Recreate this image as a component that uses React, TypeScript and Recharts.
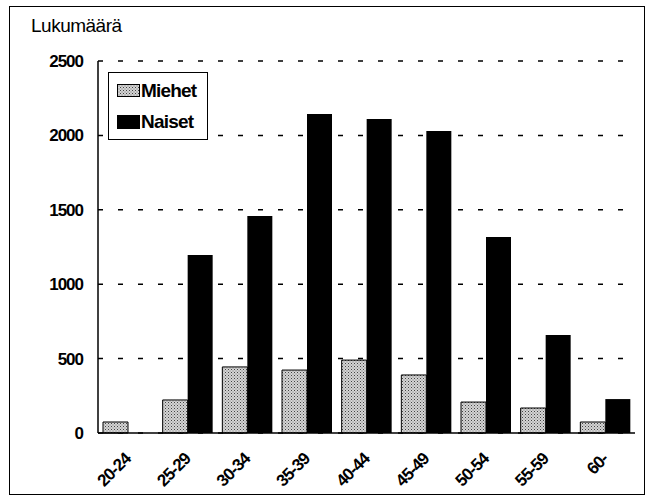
import { BarChart, Bar, XAxis, YAxis, CartesianGrid } from 'recharts';

const ageGroups = ['20-24', '25-29', '30-34', '35-39', '40-44', '45-49', '50-54', '55-59', '60-'];
const miehet = [74, 222, 444, 423, 490, 390, 208, 168, 74];
const naiset = [0, 1196, 1458, 2144, 2110, 2030, 1317, 659, 228];
const yTicks = [0, 500, 1000, 1500, 2000, 2500];

const FONT = '"Liberation Sans Narrow", "Liberation Sans", Arial, sans-serif';

const data = ageGroups.map((g, i) => ({ group: g, miehet: miehet[i], naiset: naiset[i] }));

function AgeTick(props: any) {
  const { x, y, payload } = props;
  const ax = x + 4;
  const ay = y + 19;
  return (
    <text
      x={ax}
      y={ay}
      transform={`rotate(-45, ${ax}, ${ay})`}
      textAnchor="end"
      fontFamily={FONT}
      fontWeight="bold"
      fontSize={17}
      letterSpacing={-0.9}
      fill="#000"
    >
      {payload.value}
    </text>
  );
}

function LegendBox() {
  const row = { display: 'flex', alignItems: 'center', height: 31 } as const;
  return (
    <div
      style={{
        position: 'absolute',
        left: 108,
        top: 72,
        width: 100,
        height: 68,
        boxSizing: 'border-box',
        border: '1px solid #000',
        background: '#fff',
        padding: '2px 4px 2px 8px',
        fontFamily: FONT,
        fontWeight: 'bold',
        fontSize: 19,
        letterSpacing: -0.8,
      }}
    >
      <div style={row}>
        <svg width={23} height={13} style={{ marginRight: 1 }}>
          <rect x={0.5} y={0.5} width={22} height={12} fill="url(#dots)" stroke="#000" />
        </svg>
        Miehet
      </div>
      <div style={row}>
        <svg width={23} height={14} style={{ marginRight: 1 }}>
          <rect x={0} y={0} width={23} height={14} fill="#000" />
        </svg>
        Naiset
      </div>
    </div>
  );
}

export default function App() {
  return (
    <div style={{ position: 'absolute', left: 0, top: 0, width: 652, height: 504, background: '#fff' }}>
      <div
        style={{
          position: 'absolute',
          left: 9,
          top: 6,
          width: 636,
          height: 489,
          border: '1.5px solid #000',
          boxSizing: 'border-box',
        }}
      />
      <div
        style={{
          position: 'absolute',
          left: 31,
          top: 15,
          fontFamily: FONT,
          fontSize: 19,
          letterSpacing: -0.5,
          color: '#000',
        }}
      >
        Lukumäärä
      </div>
      <BarChart
        width={652}
        height={504}
        data={data}
        margin={{ top: 61, right: 17, left: 0, bottom: 0 }}
        barCategoryGap={5}
        barGap={0}
        style={{ position: 'absolute', left: 0, top: 0 }}
      >
        <defs>
          <pattern id="dots" width={3} height={3} patternUnits="userSpaceOnUse">
            <rect width={3} height={3} fill="#d4d4d4" />
            <rect width={1} height={1} fill="#444" />
            <rect x={1.5} y={1.5} width={1} height={1} fill="#777" />
          </pattern>
        </defs>
        <CartesianGrid
          vertical={false}
          stroke="#000"
          strokeDasharray="5 15"
          strokeWidth={1.5}
        />
        <XAxis
          dataKey="group"
          axisLine={{ stroke: '#000', strokeWidth: 1.5 }}
          tickLine={false}
          interval={0}
          tick={<AgeTick />}
          height={71}
        />
        <XAxis xAxisId="top" orientation="top" dataKey="group" tick={false} tickLine={false} height={0} axisLine={{ stroke: '#000', strokeWidth: 1.5 }} />
        <YAxis
          domain={[0, 2500]}
          ticks={yTicks}
          width={98}
          axisLine={{ stroke: '#000', strokeWidth: 1.5 }}
          tickLine={false}
          tickSize={6}
          tickMargin={9}
          tick={{ fill: '#000', fontFamily: FONT, fontWeight: 'bold', fontSize: 17, letterSpacing: -1 }}
        />
        <YAxis yAxisId="right" orientation="right" width={0} tick={false} tickLine={false} axisLine={{ stroke: '#000', strokeWidth: 1.5 }} />
        <Bar dataKey="miehet" name="Miehet" fill="url(#dots)" stroke="#000" strokeWidth={1} isAnimationActive={false} />
        <Bar dataKey="naiset" name="Naiset" fill="#000" isAnimationActive={false} />
      </BarChart>
      <LegendBox />
    </div>
  );
}
